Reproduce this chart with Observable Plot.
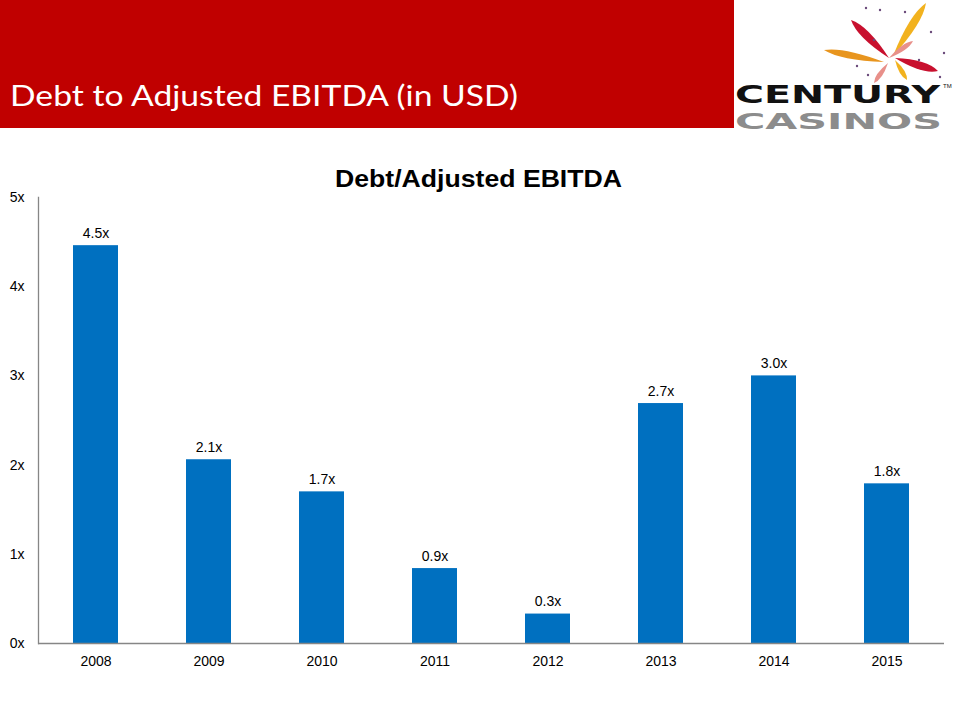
<!DOCTYPE html>
<html><head><meta charset="utf-8">
<script src="https://cdn.jsdelivr.net/npm/d3@7"></script>
<script src="https://cdn.jsdelivr.net/npm/@observablehq/plot@0.6"></script>
<style>
body{margin:0;background:#fff;width:960px;height:720px;overflow:hidden;position:relative;font-family:"Liberation Sans",Arial,sans-serif}
#header{position:absolute;left:0;top:0}
#chart{position:absolute;left:0;top:180px}
</style></head>
<body>
<div id="header"></div>
<div id="chart"></div>
<script>
const years = ["2008", "2009", "2010", "2011", "2012", "2013", "2014", "2015"];
const ratios = [4.46, 2.06, 1.70, 0.84, 0.33, 2.69, 3.00, 1.79];
const labels = ["4.5x", "2.1x", "1.7x", "0.9x", "0.3x", "2.7x", "3.0x", "1.8x"];
const yTicks = [0, 1, 2, 3, 4, 5];
const pageTitle = "Debt to Adjusted EBITDA (in USD)";
const chartTitle = "Debt/Adjusted EBITDA";

const data = years.map((year, i) => ({year, ratio: ratios[i], label: labels[i]}));

// Header band, logo and chart title
const hs = d3.select("#header").append("svg").attr("width", 960).attr("height", 200);
hs.append("rect").attr("x", 0).attr("y", 0).attr("width", 734).attr("height", 128).attr("fill", "#C00000");
hs.append("text").attr("x", 10).attr("y", 106).attr("fill", "#fff")
  .attr("font-family", "Lato, 'Open Sans', sans-serif").attr("font-size", 29)
  .attr("textLength", 508).attr("lengthAdjust", "spacingAndGlyphs").text(pageTitle);
hs.append("text").attr("x", 478.5).attr("y", 187).attr("text-anchor", "middle")
  .attr("font-family", "'Liberation Sans', Arial, sans-serif").attr("font-weight", "bold").attr("font-size", 24.5)
  .attr("textLength", 287).attr("lengthAdjust", "spacingAndGlyphs").text(chartTitle);

// logo
function leaf(x1, y1, x2, y2, w, color) {
  const dx = x2 - x1, dy = y2 - y1, L = Math.hypot(dx, dy);
  const nx = -dy / L, ny = dx / L;
  const mx = x1 + dx * 0.3, my = y1 + dy * 0.3;
  const p = `M${x1},${y1} Q${mx + nx * w},${my + ny * w} ${x2},${y2} Q${mx - nx * w},${my - ny * w} ${x1},${y1}Z`;
  hs.append("path").attr("d", p).attr("fill", color);
}
leaf(851, 20, 889, 58, 8, "#C8102E");
leaf(926, 3, 893, 56, 8, "#F2B21E");
leaf(824, 50, 884, 62, 7, "#E8951E");
leaf(913, 41, 889, 58, 5, "#E8908A");
leaf(938, 71, 895, 58, 8, "#C8102E");
leaf(907, 80, 895, 60, 5, "#F2B21E");
leaf(874, 83, 888, 63, 5, "#E8908A");
[[866,8],[905,12],[874,40],[944,53],[940,77],[868,75],[919,60],[857,66],[880,10],[931,32]].forEach(([x, y]) =>
  hs.append("circle").attr("cx", x).attr("cy", y).attr("r", 1.2).attr("fill", "#6a4a7a"));
hs.append("text").attr("x", 735).attr("y", 102.5).attr("fill", "#111")
  .attr("font-family", "'DejaVu Sans', sans-serif").attr("font-weight", "bold").attr("font-size", 24)
  .attr("textLength", 205).attr("lengthAdjust", "spacingAndGlyphs").text("CENTURY");
hs.append("text").attr("x", 943).attr("y", 88).attr("fill", "#111")
  .attr("font-family", "'Liberation Sans', sans-serif").attr("font-size", 6).text("TM");
hs.append("text").attr("x", 735).attr("y", 129).attr("fill", "#8C8C8C")
  .attr("font-family", "'DejaVu Sans', sans-serif").attr("font-weight", "bold").attr("font-size", 22)
  .attr("textLength", 207).attr("lengthAdjust", "spacingAndGlyphs").text("CASINOS");

// Chart
const marks = [
  Plot.barY(data, {x: "year", y: "ratio", fill: "#0070C0"}),
  Plot.text(data, {x: "year", y: "ratio", text: "label", dy: -8, lineAnchor: "bottom", fontSize: 14, fill: "#000"}),
  Plot.axisX({tickSize: 0, tickPadding: 13, fontSize: 14, label: null}),
  Plot.axisY({ticks: yTicks, tickFormat: d => d + "x", tickSize: 0, tickPadding: 14, fontSize: 14, label: null}),
  Plot.ruleY([0], {stroke: "#868686", strokeWidth: 1.3}),
  Plot.frame({anchor: "left", stroke: "#868686", strokeWidth: 1.3})
];

const chart = Plot.plot({
  width: 960,
  height: 540,
  marginTop: 17,
  marginBottom: 77,
  marginLeft: 38,
  marginRight: 16,
  style: {fontFamily: "'Liberation Sans', Arial, sans-serif", fontSize: "14px", color: "#000", background: "transparent", overflow: "visible"},
  x: {domain: years, paddingInner: 0.6, paddingOuter: 0.3},
  y: {domain: [0, 5]},
  marks
});
document.getElementById("chart").appendChild(chart);
</script>
</body></html>
